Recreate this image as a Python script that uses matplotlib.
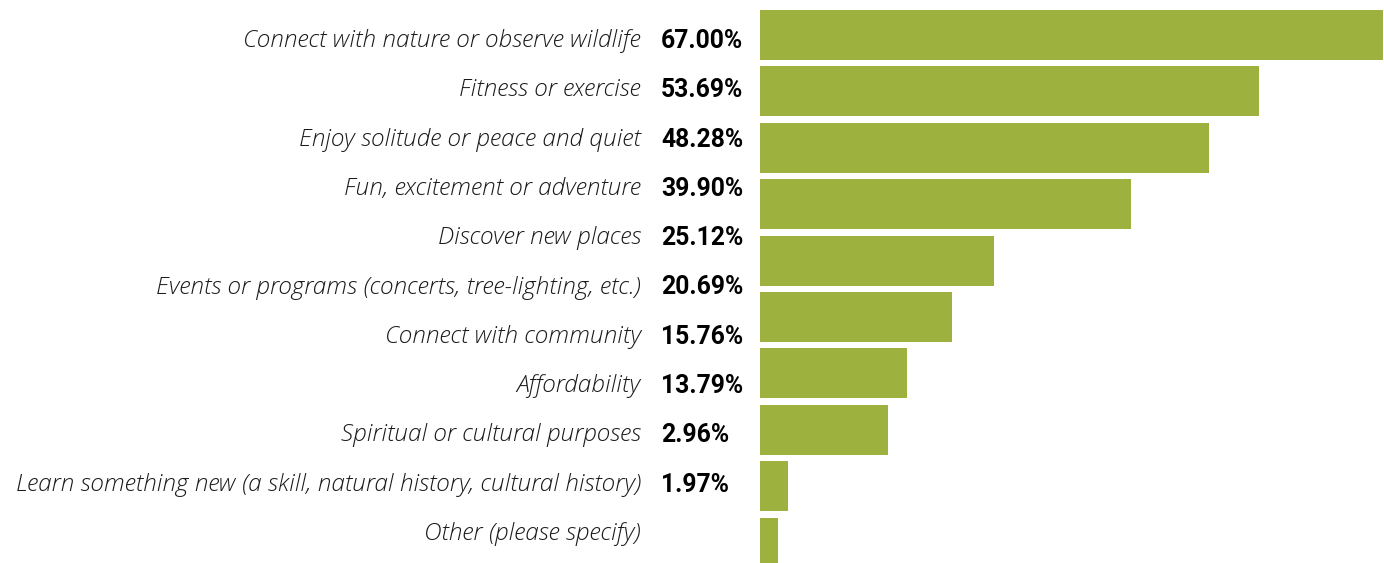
import matplotlib
matplotlib.use("Agg")
import matplotlib.pyplot as plt

categories = [
    "Connect with nature or observe wildlife",
    "Fitness or exercise",
    "Enjoy solitude or peace and quiet",
    "Fun, excitement or adventure",
    "Discover new places",
    "Events or programs (concerts, tree-lighting, etc.)",
    "Connect with community",
    "Affordability",
    "Spiritual or cultural purposes",
    "Learn something new (a skill, natural history, cultural history)",
    "Other (please specify)",
]
values = [67.00, 53.69, 48.28, 39.90, 25.12, 20.69, 15.76, 13.79, 2.96, 1.97]
pct_labels = ["67.00%", "53.69%", "48.28%", "39.90%", "25.12%", "20.69%",
              "15.76%", "13.79%", "2.96%", "1.97%"]

W, H = 1384, 563
fig = plt.figure(figsize=(W / 100, H / 100), dpi=100)

# bars: own axes, rows ~56.4px apart, first centre at 35px
ax = fig.add_axes([760 / W, 0, (1383 - 760) / W, 1])
step = 56.4
ax.barh(range(len(values)), values, height=50 / step, color="#9cb13e")
ax.set_xlim(0, 67.0)
ax.set_ylim((H - 35) / step, -35 / step)
ax.axis("off")

# text column: rows ~49.3px apart, first centre at 41px
tx = fig.add_axes([0, 0, 1, 1])
tx.set_xlim(0, W)
tstep = 49.3
tx.set_ylim((H - 41) / tstep, -41 / tstep)
tx.axis("off")

for i, cat in enumerate(categories):
    tx.text(641, i, cat, ha="right", va="center", fontsize=17.6,
            family="Open Sans", style="italic", weight="light", color="#1a1a1a")
for i, p in enumerate(pct_labels):
    tx.text(661, i, p, ha="left", va="center", fontsize=17.8,
            fontweight="bold", family="Roboto", color="black")

fig.savefig("out.png", dpi=100)
